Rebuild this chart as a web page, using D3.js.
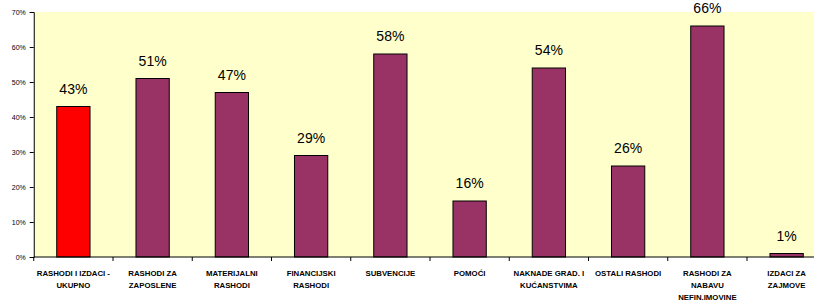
<!DOCTYPE html>
<html>
<head>
<meta charset="utf-8">
<script src="https://cdn.jsdelivr.net/npm/d3@7"></script>
<style>
  body { margin: 0; background: #fff; }
  svg { display: block; font-family: "Liberation Sans", Arial, sans-serif; }
</style>
</head>
<body>
<script>
// kategorije i postoci izvršenja
var categories = [
  ['RASHODI I IZDACI -', 'UKUPNO'],
  ['RASHODI ZA', 'ZAPOSLENE'],
  ['MATERIJALNI', 'RASHODI'],
  ['FINANCIJSKI', 'RASHODI'],
  ['SUBVENCIJE'],
  ['POMOĆI'],
  ['NAKNADE GRAD. I', 'KUĆANSTVIMA'],
  ['OSTALI RASHODI'],
  ['RASHODI ZA', 'NABAVU', 'NEFIN.IMOVINE'],
  ['IZDACI ZA', 'ZAJMOVE']
];
var values = [43, 51, 47, 29, 58, 16, 54, 26, 66, 1];
var yTicks = [0, 10, 20, 30, 40, 50, 60, 70];

var WIDTH = 814;
var HEIGHT = 304;
var plotLeft = 33.75, plotTop = 12, plotBottom = 257;
var band = 79.25;

var svg = d3.select('body')
  .append('svg')
  .attr('width', WIDTH)
  .attr('height', HEIGHT);

var x = d3.scaleBand()
  .domain(d3.range(values.length))
  .range([plotLeft, plotLeft + band * values.length])
  .paddingInner(0.58)
  .paddingOuter(0.29);

var y = d3.scaleLinear()
  .domain([0, 70])
  .range([plotBottom, plotTop]);

// pozadina
svg.append('rect')
  .attr('x', plotLeft)
  .attr('y', plotTop)
  .attr('width', WIDTH - plotLeft)
  .attr('height', plotBottom - plotTop)
  .attr('fill', '#FFFFCC');

// stupci
svg.selectAll('rect.bar')
  .data(values)
  .enter()
  .append('rect')
  .attr('class', 'bar')
  .attr('x', function(d, i){ return x(i); })
  .attr('y', function(d){ return y(d); })
  .attr('width', x.bandwidth())
  .attr('height', function(d){ return plotBottom - y(d); })
  .attr('fill', function(d, i){ return i === 0 ? '#FF0000' : '#993366'; })
  .attr('stroke', '#000')
  .attr('stroke-width', 1);

// oznake vrijednosti
svg.selectAll('text.val')
  .data(values)
  .enter()
  .append('text')
  .attr('class', 'val')
  .attr('x', function(d, i){ return x(i) + x.bandwidth() / 2; })
  .attr('y', function(d){ return y(d) - 13; })
  .attr('text-anchor', 'middle')
  .attr('font-size', 14)
  .attr('fill', '#000')
  .text(function(d){ return d + '%'; });

// y os
var yAxis = svg.append('g')
  .attr('transform', 'translate(' + plotLeft + ',0)')
  .call(d3.axisLeft(y)
    .tickValues(yTicks)
    .tickSize(4)
    .tickFormat(function(d){ return d + '%'; }));
yAxis.select('.domain').attr('stroke', '#000');
yAxis.selectAll('text').attr('font-size', 7).attr('font-family', 'Liberation Sans, Arial, sans-serif').attr('dx', '-1');

// x os
var xTickPos = d3.range(values.length + 1).map(function(i){ return plotLeft + i * band; });
svg.append('line')
  .attr('x1', plotLeft).attr('x2', WIDTH)
  .attr('y1', plotBottom).attr('y2', plotBottom)
  .attr('stroke', '#000');
svg.selectAll('line.xt')
  .data(xTickPos)
  .enter()
  .append('line')
  .attr('class', 'xt')
  .attr('x1', function(d){ return d; })
  .attr('x2', function(d){ return d; })
  .attr('y1', plotBottom)
  .attr('y2', plotBottom + 4)
  .attr('stroke', '#000');

// nazivi kategorija
var lbl = svg.selectAll('text.cat')
  .data(categories)
  .enter()
  .append('text')
  .attr('class', 'cat')
  .attr('text-anchor', 'middle')
  .attr('font-size', 7.8)
  .attr('font-weight', 'bold')
  .attr('fill', '#000');
lbl.selectAll('tspan')
  .data(function(d, i){ return d.map(function(t){ return {t: t, i: i}; }); })
  .enter()
  .append('tspan')
  .attr('x', function(d){ return x(d.i) + x.bandwidth() / 2; })
  .attr('y', function(d, j){ return 275.5 + j * 12.3; })
  .text(function(d){ return d.t; });
</script>
</body>
</html>
